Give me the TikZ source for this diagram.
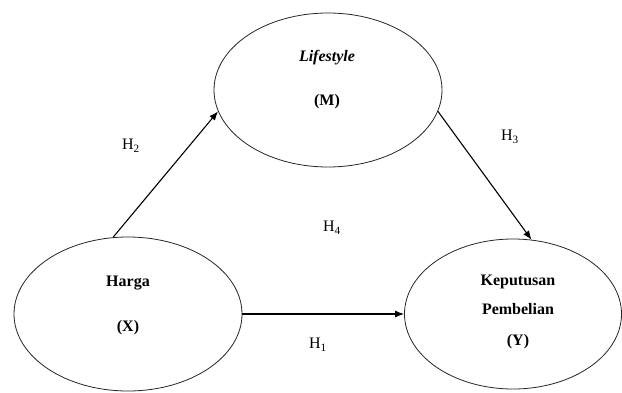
\documentclass[tikz,border=0pt]{standalone}
\usepackage{fontspec}
\setmainfont{Liberation Serif}
\usetikzlibrary{shapes.geometric,arrows.meta}
\begin{document}
\begin{tikzpicture}[x=1pt,y=-1pt,
  varbox/.style={draw=black!85,line width=0.8pt,ellipse,inner sep=0pt},
  vartext/.style={font=\fontsize{16}{19}\selectfont\bfseries,inner sep=0pt},
  hyp/.style={font=\fontsize{16}{19}\selectfont,inner sep=0pt},
  path/.style={draw=black,line width=1.1pt,-{Latex[length=9pt,width=7pt]}}]
\useasboundingbox (0,0) rectangle (622,392);
\node[varbox,minimum width=228pt,minimum height=154pt] (M) at (328,90) {};
\node[varbox,minimum width=228pt,minimum height=154pt] (X) at (128,314) {};
\node[varbox,minimum width=217pt,minimum height=150pt] (Y) at (513,314) {};
\node[vartext] (m1) at (327,58) {\itshape Lifestyle};
\node[vartext] (m2) at (327,102) {(M)};
\node[vartext] (x1) at (128,283) {Harga};
\node[vartext] (x2) at (128,328) {(X)};
\node[vartext] (y1) at (518,282) {Keputusan};
\node[vartext] (y2) at (518,309) {Pembelian};
\node[vartext] (y3) at (518,342) {(Y)};
\draw[path] (X.101) -- (M.191);
\draw[path] (M.-11) -- (Y.76);
\draw[path] (X.east) -- (Y.west);
\node[hyp] (h2) at (131,146) {H\textsubscript{2}};
\node[hyp] (h3) at (510,137) {H\textsubscript{3}};
\node[hyp] (h4) at (332,228) {H\textsubscript{4}};
\node[hyp] (h1) at (318,345) {H\textsubscript{1}};
\end{tikzpicture}
\end{document}
